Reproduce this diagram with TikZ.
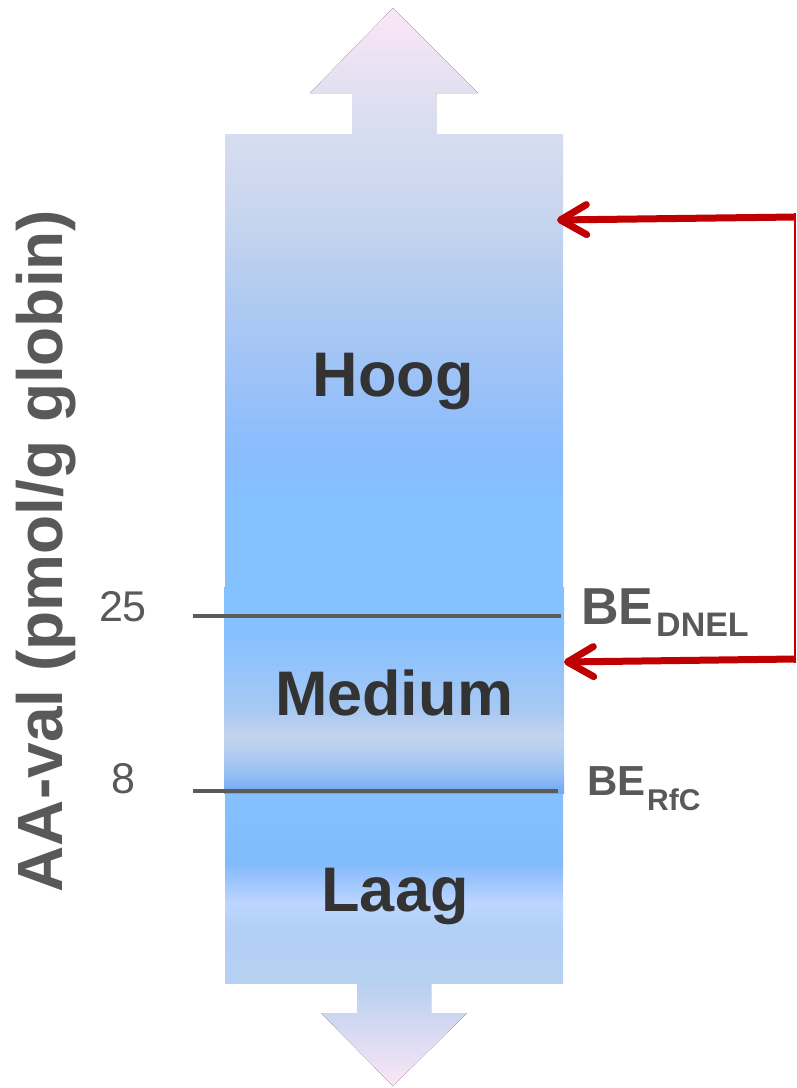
\documentclass[tikz,border=0pt]{standalone}
\usepackage{fontspec}
\setmainfont{Liberation Sans}
\usetikzlibrary{arrows.meta}
\definecolor{bB}{HTML}{85C0FF}
\definecolor{hA}{HTML}{8ABCFE}
\definecolor{hB}{HTML}{97C0F9}
\definecolor{hC}{HTML}{AFCAF1}
\definecolor{hD}{HTML}{C6D5EE}
\definecolor{hE}{HTML}{D7DDF0}
\definecolor{mA}{HTML}{6EA8F8}
\definecolor{mB}{HTML}{94BEF4}
\definecolor{mC}{HTML}{B0CCF0}
\definecolor{mD}{HTML}{C3D5EE}
\definecolor{mE}{HTML}{A8C8F2}
\definecolor{mF}{HTML}{96C4FA}
\definecolor{lA}{HTML}{B6D0F0}
\definecolor{lB}{HTML}{B2CFF8}
\definecolor{lC}{HTML}{BCD6FF}
\definecolor{lD}{HTML}{9CC4FC}
\definecolor{lE}{HTML}{80BCFC}
\definecolor{arrPink}{HTML}{FBE6F6}
\definecolor{arrTopBase}{HTML}{D5DCEF}
\definecolor{arrBotBase}{HTML}{B7CFEF}
\definecolor{txtDark}{HTML}{333333}
\definecolor{txtGray}{HTML}{595959}
\definecolor{lineGray}{HTML}{5A5A5A}
\definecolor{darkRed}{HTML}{C00000}
\pgfdeclareverticalshading{hoogshade}{100bp}{color(0bp)=(bB); color(25bp)=(bB); color(34.6bp)=(bB); color(40.1bp)=(hA); color(45.6bp)=(hB); color(56.7bp)=(hC); color(65.5bp)=(hD); color(75bp)=(hE); color(100bp)=(hE)}
\pgfdeclareverticalshading{mediumshade}{100bp}{color(0bp)=(mA); color(25bp)=(mA); color(29.35bp)=(mB); color(34.2bp)=(mC); color(39.1bp)=(mD); color(45.15bp)=(mE); color(54.85bp)=(mF); color(64.5bp)=(bB); color(75bp)=(bB); color(100bp)=(bB)}
\pgfdeclareverticalshading{laagshade}{100bp}{color(0bp)=(lA); color(25bp)=(lA); color(38.95bp)=(lB); color(46.05bp)=(lC); color(52.1bp)=(lD); color(56.6bp)=(lE); color(75bp)=(bB); color(100bp)=(bB)}
\tikzset{
  bar/.style={shade, inner sep=0pt, outer sep=0pt, anchor=north west, draw=none},
  bigtext/.style={font=\bfseries\fontsize{63}{63}\selectfont, text=txtDark, inner sep=0pt, anchor=base},
  numtext/.style={font=\fontsize{43}{43}\selectfont, text=txtGray, inner sep=0pt, anchor=base},
  levelline/.style={draw=lineGray, line width=4.5pt},
  redarrow/.style={draw=darkRed, line width=7pt, -{Straight Barb[length=26pt,width=30pt,line cap=round,line join=round]}},
  redthin/.style={draw=darkRed, line width=2.5pt}
}
\begin{document}
\begin{tikzpicture}[x=1pt,y=-1pt]
\useasboundingbox (0,0) rectangle (796,1088);
% big arrows
\fill[top color=arrPink, bottom color=arrTopBase] (352,135) -- (352,93) -- (310,93) -- (393,8) -- (478,93) -- (436,93) -- (436,135) -- cycle;
\fill[top color=arrBotBase, bottom color=arrPink] (357,982) -- (357,1013) -- (321,1013) -- (393,1086) -- (467,1013) -- (431,1013) -- (431,982) -- cycle;
% bars
\node[bar, shading=hoogshade, minimum width=338pt, minimum height=454pt] (hoogbar) at (225,134) {};
\node[bar, shading=laagshade, minimum width=338pt, minimum height=190pt] (laagbar) at (225,793) {};
\node[bar, shading=mediumshade, minimum width=340pt, minimum height=206pt] (mediumbar) at (224,587) {};
% texts
\node[bigtext] (hoog) at (393,396) {Hoog};
\node[bigtext] (medium) at (394,715) {Medium};
\node[bigtext] (laag) at (395,911) {Laag};
% level lines
\coordinate (l25a) at (193,616);
\coordinate (l25b) at (561,616);
\coordinate (l8a) at (193,791);
\coordinate (l8b) at (558,791);
\draw[levelline] (l25a) -- (l25b);
\draw[levelline] (l8a) -- (l8b);
\node[numtext] (n25) at (123,621) {25};
\node[numtext] (n8) at (123,793) {8};
% BE labels
\node[font=\bfseries\fontsize{52}{52}\selectfont, text=txtGray, inner sep=0pt, anchor=base west] (bednel) at (581,624) {BE};
\node[font=\bfseries\fontsize{34}{34}\selectfont, text=txtGray, inner sep=0pt, anchor=base west] (dnel) at (656,636) {DNEL};
\node[font=\bfseries\fontsize{42}{42}\selectfont, text=txtGray, inner sep=0pt, anchor=base west] (berfc) at (587,795) {BE};
\node[font=\bfseries\fontsize{30}{30}\selectfont, text=txtGray, inner sep=0pt, anchor=base west] (rfc) at (647,810) {RfC};
% axis label
\node[font=\bfseries\fontsize{64}{64}\selectfont, text=txtGray, inner sep=0pt, anchor=base, rotate=90] (ylabel) at (62,551) {AA-val (pmol/g globin)};
% red connectors
\coordinate (vt) at (795,213);
\coordinate (vb) at (795,663);
\coordinate (r1) at (795,217);
\coordinate (t1) at (557,220);
\coordinate (r2) at (795,659);
\coordinate (t2) at (564,662);
\draw[redarrow] (r1) -- (t1);
\draw[redarrow] (r2) -- (t2);
\draw[redthin] (vt) -- (vb);
\end{tikzpicture}
\end{document}
